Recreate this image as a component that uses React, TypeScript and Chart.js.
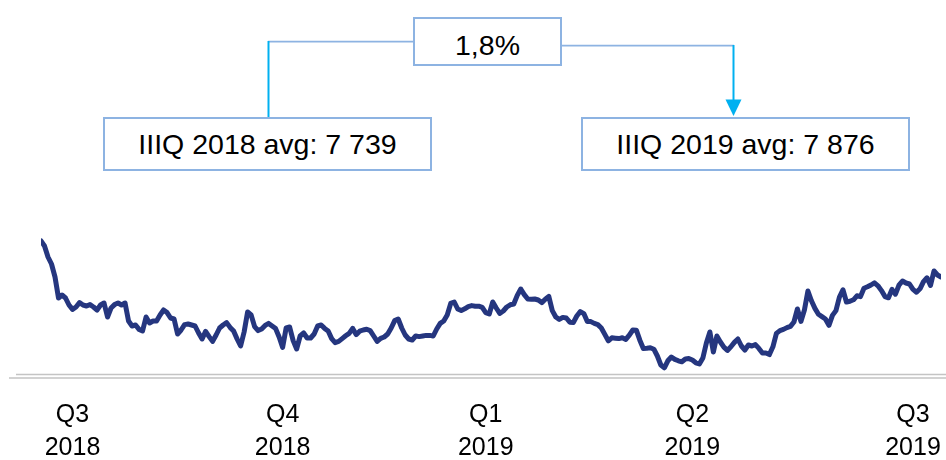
import React, { useEffect, useRef } from 'react';
import { Chart, registerables } from 'chart.js';

Chart.register(...registerables);

// Daily index level, trading-day order (Jul 2018 – Sep 2019)
const values: number[] = [
  8060, 8035, 7980, 7945, 7880, 7775, 7790, 7775, 7740, 7718,
  7730, 7752, 7740, 7735, 7742, 7730, 7715, 7740, 7750, 7680,
  7725, 7742, 7750, 7740, 7750, 7660, 7635, 7640, 7618, 7610,
  7680, 7650, 7660, 7660, 7690, 7715, 7702, 7675, 7670, 7595,
  7615, 7642, 7645, 7640, 7635, 7600, 7570, 7608, 7582, 7558,
  7590, 7625, 7640, 7652, 7628, 7610, 7570, 7535, 7605, 7705,
  7690, 7632, 7612, 7620, 7638, 7648, 7635, 7622, 7580, 7528,
  7625, 7630, 7562, 7520, 7585, 7600, 7575, 7575, 7595, 7635,
  7640, 7623, 7610, 7572, 7552, 7558, 7572, 7586, 7598, 7623,
  7592, 7609, 7615, 7619, 7612, 7585, 7558, 7573, 7580, 7595,
  7625, 7662, 7670, 7625, 7590, 7570, 7565, 7585, 7582, 7585,
  7588, 7588, 7585, 7620, 7648, 7660, 7690, 7748, 7755, 7720,
  7712, 7721, 7732, 7737, 7734, 7734, 7728, 7702, 7695, 7755,
  7725, 7698, 7710, 7730, 7741, 7745, 7788, 7820, 7792, 7770,
  7769, 7770, 7765, 7752, 7769, 7783, 7712, 7680, 7668, 7678,
  7675, 7654, 7652, 7685, 7707, 7697, 7658, 7657, 7648, 7642,
  7625, 7593, 7561, 7576, 7574, 7572, 7576, 7568, 7589, 7615,
  7614, 7564, 7523, 7524, 7526, 7519, 7485, 7440, 7426, 7461,
  7480, 7468, 7461, 7456, 7470, 7472, 7465, 7451, 7445, 7475,
  7550, 7605, 7505, 7585, 7555, 7529, 7513, 7531, 7553, 7570,
  7535, 7515, 7540, 7535, 7542, 7523, 7500, 7500, 7492, 7531,
  7598, 7612, 7618, 7627, 7633, 7655, 7720, 7658, 7715, 7810,
  7761, 7723, 7694, 7682, 7670, 7638, 7688, 7712, 7780, 7816,
  7755, 7759, 7766, 7786, 7782, 7824, 7831, 7840, 7851, 7836,
  7812, 7782, 7776, 7818, 7794, 7839, 7860, 7850, 7845, 7818,
  7804, 7821, 7857, 7876, 7838, 7910, 7890, 7880,
];

// Quarter labels and the trading-day index at which each is shown
const quarterTickIndex: number[] = [9, 69, 127, 186, 249];
const quarterLabels: string[][] = [
  ['Q3', '2018'],
  ['Q4', '2018'],
  ['Q1', '2019'],
  ['Q2', '2019'],
  ['Q3', '2019'],
];

const changeLabel = '1,8%';
const avgLabels: string[] = ['IIIQ 2018 avg: 7 739', 'IIIQ 2019 avg: 7 876'];

const yMin = 7385;
const yMax = 8265;

const LINE_COLOR = '#25367f';
const BOX_BORDER = '#8db3e2';
const CONNECTOR = '#8db3e2';
const ARROW = '#00b0f0';
const FONT = "'Liberation Sans', Arial, sans-serif";

const axisLinePlugin = {
  id: 'doubleAxisLine',
  beforeDatasetsDraw(chart: any) {
    const { ctx } = chart;
    const y = chart.scales.x.top;
    ctx.save();
    ctx.strokeStyle = '#c4c4c4';
    ctx.lineWidth = 1.5;
    ctx.beginPath();
    ctx.moveTo(16, y - 1.5);
    ctx.lineTo(946, y - 1.5);
    ctx.moveTo(9, y + 2);
    ctx.lineTo(946, y + 2);
    ctx.stroke();
    ctx.restore();
  },
};

const boxBase: React.CSSProperties = {
  position: 'absolute',
  boxSizing: 'border-box',
  border: `2px solid ${BOX_BORDER}`,
  background: '#fff',
  display: 'flex',
  alignItems: 'center',
  justifyContent: 'center',
  fontFamily: FONT,
  fontSize: 28.5,
  color: '#000',
  whiteSpace: 'nowrap',
};

export default function App() {
  const ref = useRef<HTMLCanvasElement>(null);

  useEffect(() => {
    const canvas = ref.current;
    if (!canvas) return;
    const chart = new Chart(canvas, {
      type: 'line',
      data: {
        datasets: [
          {
            data: values.map((v, i) => ({ x: i, y: v })),
            borderColor: LINE_COLOR,
            borderWidth: 5,
            pointRadius: 0,
            tension: 0,
            fill: false,
            borderJoinStyle: 'round',
            borderCapStyle: 'round',
          },
        ],
      },
      options: {
        responsive: false,
        animation: false,
        devicePixelRatio: 1,
        layout: { padding: { left: 41, right: 5, top: 200, bottom: 0 } },
        plugins: {
          legend: { display: false },
          tooltip: { enabled: false },
        },
        scales: {
          x: {
            type: 'linear',
            min: 0,
            max: values.length - 1,
            grid: { display: false, drawTicks: true, tickLength: 22.5 },
            border: { display: false },
            afterBuildTicks: (scale: any) => {
              scale.ticks = quarterTickIndex.map((v) => ({ value: v }));
            },
            afterFit: (scale: any) => {
              scale.height = 84;
            },
            ticks: {
              autoSkip: false,
              maxRotation: 0,
              minRotation: 0,
              padding: 0,
              color: '#000',
              font: { family: FONT, size: 25, lineHeight: 1.32 },
              callback: (_v: any, i: number) => quarterLabels[i],
            },
          },
          y: {
            display: false,
            min: yMin,
            max: yMax,
          },
        },
      },
      plugins: [axisLinePlugin],
    } as any);
    return () => chart.destroy();
  }, []);

  return (
    <div style={{ position: 'absolute', left: 0, top: 0, width: 946, height: 460, background: '#fff', overflow: 'hidden' }}>
      <canvas ref={ref} width={946} height={460} style={{ position: 'absolute', left: 0, top: 0, width: 946, height: 460 }} />
      <svg width={946} height={460} style={{ position: 'absolute', left: 0, top: 0 }}>
        <line x1={268} y1={41.5} x2={414} y2={41.5} stroke={CONNECTOR} strokeWidth={1.75} />
        <line x1={268.5} y1={41} x2={268.5} y2={118} stroke={ARROW} strokeWidth={2} />
        <line x1={561} y1={45.5} x2={734} y2={45.5} stroke={CONNECTOR} strokeWidth={1.75} />
        <line x1={733.5} y1={45} x2={733.5} y2={101} stroke={ARROW} strokeWidth={2} />
        <polygon points="725.5,99.5 741.5,99.5 733.5,116" fill={ARROW} />
      </svg>
      <div style={{ ...boxBase, left: 413, top: 17, width: 149, height: 49, paddingTop: 8 }}>{changeLabel}</div>
      <div style={{ ...boxBase, left: 103, top: 117, width: 329, height: 54 }}>{avgLabels[0]}</div>
      <div style={{ ...boxBase, left: 581, top: 117, width: 329, height: 54 }}>{avgLabels[1]}</div>
    </div>
  );
}
